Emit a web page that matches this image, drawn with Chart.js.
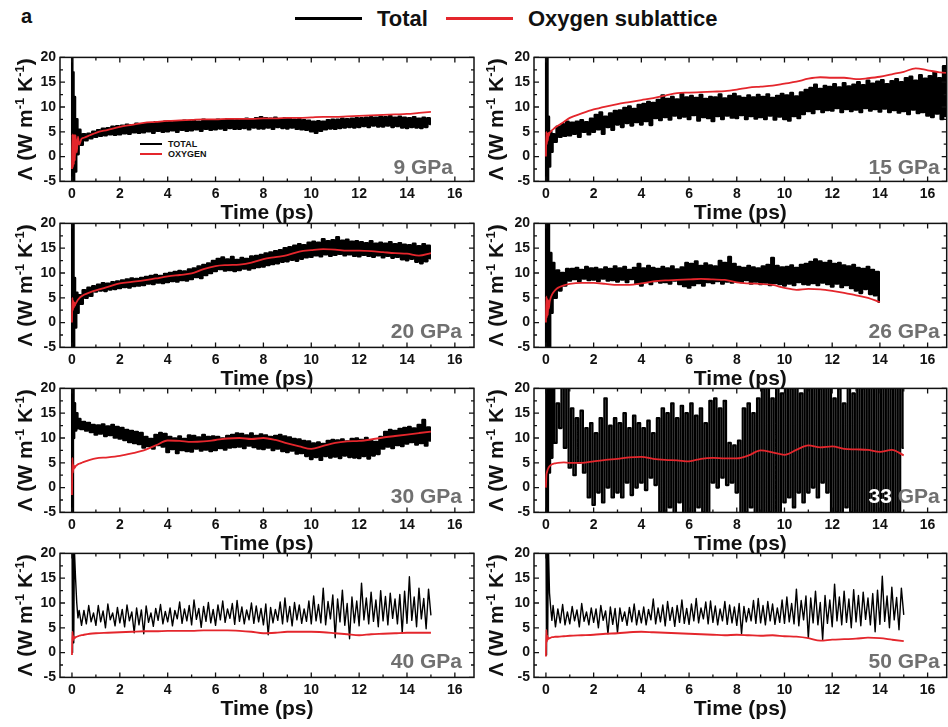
<!DOCTYPE html>
<html lang="en">
<head>
<meta charset="UTF-8">
<title>Thermal conductivity vs time</title>
<script src="https://cdn.jsdelivr.net/npm/chart.js"></script>
<style>
    body { margin: 0; background: #fff; font-family: "Liberation Sans", Arial, sans-serif; }
    #page { position: relative; width: 948px; height: 727px; overflow: hidden; }
    canvas { position: absolute; }
    .txt { position: absolute; font-weight: bold; color: #111; white-space: nowrap; }
    .key { position: absolute; }
</style>
</head>
<body>
<div id="page">
    <div class="txt" style="left:21px;top:6px;font-size:20px;line-height:20px">a</div>
    <div class="key" style="left:295px;top:17px;width:67px;height:3px;background:#000"></div>
    <div class="txt" style="left:377px;top:8px;font-size:22px;line-height:22px">Total</div>
    <div class="key" style="left:446px;top:17px;width:67px;height:3px;background:#e4262c"></div>
    <div class="txt" style="left:528px;top:8px;font-size:22px;line-height:22px">Oxygen sublattice</div>

    <div class="key" style="left:140px;top:143px;width:22px;height:2px;background:#000"></div>
    <div class="txt" style="left:168px;top:140px;font-size:9px;line-height:9px">TOTAL</div>
    <div class="key" style="left:140px;top:153px;width:22px;height:2px;background:#e4262c"></div>
    <div class="txt" style="left:168px;top:150px;font-size:9px;line-height:9px">OXYGEN</div>
</div>

<script>
    // axis ticks
    const X_TICKS = [0, 2, 4, 6, 8, 10, 12, 14, 16];
    const X_MINOR = [1, 3, 5, 7, 9, 11, 13, 15];
    const Y_TICKS = [-5, 0, 5, 10, 15, 20];
    const Y_MINOR = [-2.5, 2.5, 7.5, 12.5, 17.5];

    // time grid of the total (black) traces, ps
    const T_BLACK = [0, 0.025, 0.05, 0.075, 0.1, 0.15, 0.2, 0.25, 0.3, 0.4, 0.5, 0.6, 0.7, 0.8, 0.9];
    for (let i = 10; i <= 170; i++) T_BLACK.push(i / 10);

    // time grid of the oxygen sublattice (red) traces, ps
    const T_RED = [0, 0.02, 0.04, 0.06, 0.08, 0.1, 0.12, 0.15, 0.2, 0.25, 0.3, 0.4, 0.5, 0.75, 1,
        1.5, 2, 2.5, 3, 3.5, 4, 4.5, 5, 5.5, 6, 6.5, 7, 7.5, 8, 8.5, 9, 9.5, 10,
        10.5, 11, 11.5, 12, 12.5, 13, 13.5, 14, 14.5, 15, 15.5, 16, 16.5, 17];

    // ---- 9 GPa ----
    const B9 = [25, -8, 17, -6, 12, -3, 7.5, 0.5, 5.4, 2.4, 4.5, 3.3, 4.6, 3.7, 5.0,
        4.0, 5.3, 4.2, 5.6, 4.3, 5.7, 4.5, 6.0, 4.4, 6.1,
        4.5, 6.2, 4.7, 6.4, 4.6, 6.3, 4.9, 6.6, 4.8, 6.5,
        4.9, 6.7, 5.1, 6.6, 4.8, 6.9, 5.2, 6.8, 5.0, 7.0,
        5.1, 6.9, 5.3, 7.1, 5.0, 7.0, 5.4, 7.2, 5.2, 7.1,
        5.3, 7.2, 5.5, 7.0, 5.2, 7.4, 5.6, 7.3, 5.4, 7.2,
        5.5, 7.4, 5.7, 7.3, 5.4, 7.5, 5.8, 7.4, 5.6, 7.3,
        5.6, 7.5, 5.8, 7.6, 5.5, 7.4, 5.9, 7.7, 5.7, 7.9,
        5.7, 7.7, 5.9, 7.6, 5.6, 7.8, 6.0, 7.5, 5.8, 7.7,
        5.7, 7.6, 5.9, 7.4, 5.6, 7.5, 5.5, 7.3, 5.4, 7.2,
        5.1, 7.0, 4.8, 7.1, 5.2, 7.0, 5.5, 7.3, 5.7, 7.4,
        5.6, 7.4, 5.8, 7.6, 5.9, 7.5, 6.0, 7.6, 5.9, 7.7,
        6.0, 7.7, 6.2, 7.8, 6.0, 7.9, 6.3, 7.8, 6.1, 8.0,
        6.1, 7.9, 6.3, 8.1, 6.0, 7.8, 6.2, 8.0, 5.9, 7.8,
        5.8, 7.7, 6.0, 7.9, 5.9, 7.6, 5.8, 7.8, 6.0, 7.7,
        6.6];
    const R9 = [-2.5, 4.5, -2.2, 4.4, -1.6, 4.4, -0.8, 4.3, 0.8, 4.0, 2.4, 3.6, 3.8, 4.3, 4.8,
        5.4, 6.0, 6.4, 6.8, 7.0, 7.2, 7.3, 7.4, 7.5, 7.5, 7.6, 7.6, 7.6, 7.7,
        7.7, 7.8, 7.8, 7.9, 8.0, 8.0, 8.1, 8.2, 8.3, 8.4, 8.5, 8.6, 8.8, 9.0];

    // ---- 15 GPa ----
    const B15 = [25, -8, 22, -6, 8, -2, 5, 1, 4.5, 3, 6, 4, 6.5, 4.2, 7,
        4.3, 6.8, 4.6, 7.0, 4.0, 7.3, 5.0, 6.9, 4.5, 7.6,
        5.0, 8.4, 5.5, 8.9, 4.6, 8.0, 6.0, 8.7, 5.4, 9.2,
        6.5, 9.3, 6.0, 9.8, 6.8, 10.1, 6.3, 9.6, 7.0, 10.4,
        6.5, 10.6, 7.2, 11.0, 6.4, 10.8, 7.8, 11.4, 7.4, 12.3,
        8.0, 11.6, 7.5, 12.0, 8.3, 11.5, 7.8, 12.6, 8.1, 11.9,
        7.6, 12.2, 8.4, 11.8, 7.3, 12.4, 8.0, 11.6, 7.8, 12.0,
        7.2, 11.9, 8.2, 12.5, 7.6, 11.7, 8.3, 12.2, 7.9, 12.6,
        7.8, 12.1, 8.4, 11.8, 7.6, 12.3, 8.2, 11.9, 7.7, 12.4,
        8.0, 12.0, 7.6, 12.5, 8.3, 11.8, 7.5, 12.2, 8.1, 12.6,
        7.6, 12.3, 7.3, 12.8, 8.2, 12.1, 7.8, 12.9, 8.6, 13.4,
        9.2, 13.8, 8.8, 14.5, 9.6, 13.6, 9.0, 14.2, 9.4, 14.0,
        9.3, 14.6, 9.8, 13.9, 9.0, 14.8, 9.6, 14.1, 9.2, 14.5,
        9.5, 15.0, 9.0, 14.4, 9.8, 15.3, 9.3, 14.7, 9.6, 15.1,
        9.1, 15.4, 9.7, 14.6, 9.0, 15.2, 9.4, 15.6, 8.9, 15.0,
        9.2, 15.8, 8.6, 16.1, 9.5, 15.3, 8.8, 16.4, 9.0, 15.7,
        8.3, 16.2, 8.0, 17.0, 8.7, 15.8, 7.6, 18.2, 8.2, 16.5,
        7.8];
    const R15 = [0, 5, 2.5, 4.6, 3.2, 4.8, 4.2, 4.8, 5.0, 5.3, 5.5, 5.9, 6.2, 7.0, 7.8,
        8.7, 9.5, 10.1, 10.6, 11.0, 11.4, 11.8, 12.3, 12.8, 12.9, 13.0, 13.1, 13.2, 13.5,
        13.9, 14.1, 14.3, 14.7, 15.1, 15.7, 16.0, 15.9, 15.9, 15.6, 15.8, 16.1, 16.6, 17.1,
        17.8, 17.4, 17.0, 16.8];

    // ---- 20 GPa ----
    const B20 = [25, -8, 20, -6, 9, -1, 6, 2, 5.5, 3.8, 6.5, 5, 7, 5.4, 7.3,
        6.3, 7.6, 6.5, 7.9, 6.4, 7.8, 6.7, 8.1, 6.8, 8.3,
        7.0, 8.5, 7.2, 8.7, 7.1, 8.9, 7.4, 8.8, 7.5, 9.0,
        7.6, 9.2, 7.9, 9.4, 7.8, 9.6, 8.1, 9.4, 8.0, 9.8,
        8.2, 10.0, 8.4, 10.2, 8.3, 10.4, 8.6, 10.3, 8.5, 10.7,
        8.8, 10.9, 9.2, 11.3, 9.0, 11.6, 9.6, 11.9, 10.0, 12.4,
        10.4, 12.8, 10.8, 13.1, 10.5, 12.7, 10.6, 13.2, 10.4, 12.6,
        10.6, 13.0, 10.9, 12.8, 10.7, 13.3, 11.0, 13.4, 11.2, 13.6,
        11.3, 13.9, 11.6, 14.1, 11.8, 14.4, 12.0, 14.6, 12.3, 15.0,
        12.4, 15.2, 12.7, 15.5, 12.5, 15.8, 12.9, 15.6, 13.2, 16.1,
        13.3, 16.3, 13.6, 16.1, 13.4, 16.8, 13.8, 16.4, 13.5, 16.6,
        13.7, 17.2, 13.9, 16.5, 13.6, 16.7, 13.8, 16.3, 13.5, 16.4,
        13.4, 16.2, 13.7, 16.0, 13.5, 16.4, 13.3, 15.9, 13.6, 16.1,
        13.2, 15.9, 13.5, 16.2, 13.1, 15.8, 13.3, 16.0, 12.8, 15.7,
        12.6, 15.6, 12.9, 15.9, 12.3, 15.4, 12.0, 15.8, 12.4, 15.5,
        13.0];
    const R20 = [0, 5, 2.5, 4.3, 3.0, 4.0, 3.4, 3.8, 4.2, 4.6, 4.9, 5.3, 5.6, 6.1, 6.5,
        7.2, 7.9, 8.2, 8.5, 8.9, 9.3, 9.6, 9.9, 10.8, 11.4, 11.6, 11.7, 12.1, 12.8,
        13.2, 13.6, 14.3, 14.6, 14.8, 14.7, 14.5, 14.5, 14.4, 14.2, 14.0, 13.9, 13.5, 14.0];

    // ---- 26 GPa ----
    const B26 = [25, -8, 22, -8, 20, -6, 14, 2, 12, 5, 10.5, 6.5, 10, 7.5, 10.8,
        8.5, 10.8, 8.8, 11.0, 8.4, 10.6, 8.9, 11.2, 8.6, 10.9,
        8.7, 11.0, 8.4, 10.7, 8.9, 11.1, 8.5, 10.8, 8.6, 11.3,
        8.3, 10.9, 8.7, 11.2, 8.2, 10.6, 8.8, 11.0, 7.9, 11.8,
        7.5, 10.9, 8.3, 11.4, 7.8, 11.0, 8.4, 10.8, 8.1, 11.2,
        8.2, 10.9, 7.9, 11.3, 8.5, 10.7, 7.8, 11.1, 7.4, 12.0,
        7.1, 11.8, 7.6, 12.3, 8.0, 11.4, 7.5, 11.9, 8.2, 11.5,
        8.0, 11.3, 8.4, 12.4, 7.9, 12.0, 8.3, 13.2, 8.1, 11.8,
        8.4, 11.2, 8.2, 11.0, 8.6, 11.4, 7.9, 11.1, 8.3, 10.9,
        7.8, 11.3, 8.1, 11.6, 7.6, 13.0, 8.0, 11.4, 7.8, 11.1,
        7.5, 11.2, 7.9, 11.5, 7.6, 11.0, 8.2, 11.6, 7.8, 11.8,
        7.7, 12.2, 8.0, 12.7, 7.6, 12.3, 8.1, 12.0, 7.8, 12.4,
        7.3, 11.8, 7.9, 12.0, 7.2, 11.5, 7.6, 11.3, 7.0, 11.6,
        6.5, 11.0, 6.0, 10.8, 6.8, 11.2, 5.8, 10.6, 5.5, 10.2,
        4.2];
    const R26 = [0, 5.3, 1.0, 4.8, 1.5, 4.5, 2.8, 4.0, 5.0, 5.6, 6.0, 6.6, 7.0, 7.5, 7.8,
        8.0, 8.0, 7.8, 7.6, 7.6, 7.9, 8.3, 8.5, 8.6, 8.7, 8.8, 8.7, 8.6, 8.1,
        7.9, 7.8, 7.6, 7.0, 6.6, 6.8, 6.7, 6.4, 6.0, 5.5, 5.0, 4.1];

    // ---- 30 GPa ----
    const B30 = [25, -6, 21, 10, 17, 11.5, 15, 12, 13.8, 11.8, 13.2, 11.5, 13.0, 11.2, 12.6,
        10.7, 12.5, 10.9, 12.7, 10.4, 12.3, 10.6, 12.6, 10.1, 12.2,
        9.9, 12.0, 9.6, 11.6, 9.2, 11.4, 9.0, 11.2, 8.8, 11.0,
        8.1, 10.2, 8.4, 9.8, 7.9, 10.6, 8.6, 11.0, 8.3, 10.8,
        7.2, 10.2, 7.8, 9.9, 7.0, 10.3, 7.6, 9.8, 7.4, 10.5,
        7.3, 10.4, 7.9, 10.1, 7.5, 10.6, 7.7, 10.2, 7.4, 10.3,
        7.6, 10.2, 8.0, 9.9, 7.7, 10.4, 8.1, 10.6, 8.2, 10.9,
        8.3, 10.8, 8.0, 10.5, 8.5, 10.9, 8.2, 10.4, 7.9, 10.7,
        7.8, 10.5, 8.1, 10.2, 7.6, 10.4, 7.9, 10.6, 7.4, 10.3,
        7.2, 10.1, 7.5, 9.8, 6.9, 9.7, 7.0, 9.4, 6.4, 9.3,
        5.8, 8.9, 6.2, 9.1, 5.6, 8.8, 6.4, 9.4, 6.1, 9.6,
        6.3, 9.5, 6.0, 9.7, 6.5, 9.3, 6.2, 9.8, 6.1, 9.9,
        6.0, 9.6, 6.4, 10.0, 5.9, 9.4, 6.5, 9.2, 6.8, 10.2,
        7.9, 11.2, 8.3, 11.6, 8.0, 11.4, 8.6, 11.8, 8.4, 12.0,
        8.9, 12.2, 9.2, 11.9, 8.7, 12.6, 9.0, 13.6, 8.5, 12.1,
        9.5];
    const R30 = [-1.5, 6, 3.0, 4.6, 3.8, 4.3, 4.0, 4.3, 4.5, 4.7, 4.8, 5.0, 5.2, 5.6, 5.9,
        6.1, 6.4, 6.9, 7.5, 8.5, 9.5, 9.4, 9.2, 9.3, 9.6, 9.9, 10.0, 9.8, 10.0,
        9.6, 8.9, 8.3, 7.8, 8.4, 9.0, 9.3, 9.4, 9.7, 10.1, 10.4, 10.7, 11.0, 11.3];

    // ---- 33 GPa ----
    const B33 = [25, -8, 24, -6, 22, 3, 24, 6, 23, 9, 17, 12, 22, 8, 24,
        4, 16, 2.5, 14, 5, 15.5, 3, 12, -2, 13,
        -3.5, 11, -1, 14, -3, 18, 0, 12.5, -2, 14,
        -1, 13, -2, 15, 1, 12, -1.5, 14.5, 0, 13,
        1, 12, -0.5, 13.5, 2, 11, 0.5, 14, -5, 16,
        -6, 15, -4, 17, -5.5, 14, -3, 16.5, -6, 15,
        -5, 17, -6, 14.5, -4, 16, -5, 13, -6, 17.5,
        1, 18, 0, 16, 2, 17.5, 0.5, 9, 1, 8.5,
        -1, 9.5, -6, 16, -5, 17, -4, 15, -6, 18,
        -7, 20, -6, 22, -5, 18, -8, 21, -6, 19,
        -3, 21, -2, 20, -4, 22, -1, 19, -3, 23,
        -1, 21, 0, 24, -2, 20, 1, 22, -1, 21,
        -6, 18, -5, 20, -7, 17, -4, 21, -5, 19,
        -6, 22, -7, 20, -5, 24, -6, 21, -8, 23,
        -6, 21, -5, 24, -7, 20, -6, 22, -5, 23,
        8];
    const R33 = [0, 2.5, 3.0, 3.4, 3.7, 3.9, 4.1, 4.3, 4.5, 4.7, 4.8, 4.9, 5.0, 5.1, 5.0,
        5.0, 5.3, 5.6, 5.8, 6.1, 6.2, 5.8, 5.6, 5.5, 5.3, 5.8, 6.0, 5.9, 5.9,
        6.5, 7.5, 7.1, 6.6, 7.6, 8.5, 8.1, 8.3, 7.8, 7.7, 7.6, 7.2, 7.6, 6.5];

    // ---- 40 GPa ----
    const B40 = [25, 0, 24, 2, 21, 15, 10, 7, 8.5, 5.5, 8.5, 5.8, 9.5, 6.2, 8.0,
        5.5, 9.5, 6.2, 8.4, 5.0, 9.8, 6.6, 8.0, 5.4, 9.1,
        6.0, 8.7, 5.2, 9.6, 6.4, 8.2, 4.0, 9.0, 5.6, 8.6,
        3.8, 9.4, 6.1, 8.0, 5.3, 8.9, 6.5, 9.7, 5.8, 8.3,
        6.2, 9.0, 5.4, 8.5, 6.8, 10.2, 5.9, 8.8, 6.4, 9.5,
        5.6, 10.6, 6.7, 8.9, 5.1, 9.3, 6.3, 10.1, 6.0, 8.7,
        5.5, 9.6, 6.6, 10.4, 6.1, 8.8, 6.9, 9.9, 5.7, 10.5,
        6.3, 9.2, 5.8, 8.6, 6.6, 10.0, 5.9, 9.4, 6.2, 8.9,
        5.6, 9.8, 3.6, 9.1, 6.0, 8.7, 6.5, 10.2, 5.8, 11.0,
        6.2, 9.3, 5.4, 10.1, 6.6, 9.6, 5.9, 8.8, 6.3, 10.4,
        5.8, 11.4, 6.4, 9.7, 6.0, 13.0, 5.6, 10.3, 6.8, 11.6,
        3.0, 10.8, 6.2, 12.6, 5.5, 9.9, 2.8, 11.2, 6.0, 10.4,
        5.4, 14.0, 6.6, 11.0, 5.8, 12.2, 6.3, 10.6, 5.2, 12.5,
        6.4, 11.3, 5.6, 12.0, 6.9, 10.8, 5.8, 11.7, 4.0, 12.4,
        5.9, 15.3, 6.5, 11.2, 5.2, 13.0, 6.8, 10.9, 4.8, 12.8,
        7.5];
    const R40 = [-0.5, 4.2, 2.4, 3.3, 2.8, 3.1, 2.9, 3.1, 3.2, 3.3, 3.4, 3.5, 3.6, 3.8, 3.9,
        4.0, 4.1, 4.2, 4.3, 4.3, 4.4, 4.4, 4.4, 4.5, 4.5, 4.5, 4.4, 4.2, 3.9,
        4.0, 4.2, 4.2, 4.2, 4.1, 3.9, 3.7, 3.5, 3.7, 3.8, 3.9, 4.0, 4.0, 4.0];

    // ---- 50 GPa ----
    const B50 = [25, -0.5, 24, 3, 22, 12, 9, 6.5, 9.5, 5.2, 8.8, 6.0, 9.7, 5.6, 8.2,
        5.8, 9.3, 6.4, 8.6, 5.2, 9.9, 6.3, 8.2, 5.6, 9.0,
        6.1, 8.8, 5.0, 9.5, 6.5, 8.4, 3.8, 9.2, 5.7, 8.9,
        4.0, 9.0, 6.3, 8.2, 5.5, 9.1, 6.2, 9.8, 5.6, 8.5,
        6.0, 9.2, 5.6, 8.7, 6.6, 10.8, 5.8, 9.0, 6.2, 9.6,
        5.4, 10.3, 6.5, 9.1, 5.3, 9.5, 6.1, 10.6, 5.9, 8.9,
        5.7, 9.8, 6.4, 10.9, 6.0, 9.0, 6.8, 10.2, 5.8, 10.4,
        6.1, 9.4, 5.6, 8.8, 6.4, 10.3, 5.7, 9.6, 6.0, 9.2,
        5.5, 9.9, 3.8, 9.3, 6.2, 8.9, 6.4, 10.5, 5.9, 10.9,
        6.0, 9.5, 5.6, 10.3, 6.4, 9.8, 5.7, 9.0, 6.1, 10.6,
        5.9, 11.2, 6.2, 9.9, 5.8, 12.8, 5.4, 10.5, 6.6, 11.4,
        2.9, 11.0, 6.0, 12.4, 5.6, 10.1, 2.6, 11.5, 5.9, 10.6,
        5.2, 13.8, 6.4, 11.2, 5.6, 12.4, 6.1, 10.8, 5.0, 12.7,
        6.2, 11.5, 5.4, 12.2, 6.7, 11.0, 5.6, 11.9, 4.2, 12.6,
        5.7, 15.4, 6.3, 11.4, 5.0, 13.2, 6.6, 11.1, 4.6, 13.0,
        7.6];
    const R50 = [-0.8, 4.6, 2.2, 3.4, 2.6, 3.0, 2.8, 2.9, 3.0, 3.1, 3.1, 3.2, 3.2, 3.3, 3.4,
        3.5, 3.6, 3.8, 3.9, 4.1, 4.2, 4.1, 4.0, 3.9, 3.8, 3.7, 3.6, 3.5, 3.6,
        3.5, 3.4, 3.5, 3.3, 3.2, 2.9, 2.4, 2.6, 2.7, 2.8, 3.0, 2.9, 2.6, 2.3];

    // dense traces are drawn as stepped strokes so they read as a solid band
    const PANELS = [
        { label: '9 GPa',  black: B9,  red: R9,  col: 0, row: 0, inset: 21, lw: 2.6, dense: true },
        { label: '15 GPa', black: B15, red: R15, col: 1, row: 0, lw: 2.6, dense: true },
        { label: '20 GPa', black: B20, red: R20, col: 0, row: 1, lw: 2.6, dense: true },
        { label: '26 GPa', black: B26, red: R26, col: 1, row: 1, lw: 2.6, dense: true },
        { label: '30 GPa', black: B30, red: R30, col: 0, row: 2, lw: 2.6, dense: true },
        { label: '33 GPa', black: B33, red: R33, col: 1, row: 2, lw: 2.2, dense: true, whiteNum: true },
        { label: '40 GPa', black: B40, red: R40, col: 0, row: 3, lw: 1.4 },
        { label: '50 GPa', black: B50, red: R50, col: 1, row: 3, lw: 1.4 }
    ];

    const FONT = '"Liberation Sans", Arial, sans-serif';
    const RED = '#e4262c';
    const COLS = [
        { left: 0, width: 480, padRight: 6, titleGap: 28, inset: 12 },
        { left: 474, width: 474, padRight: 1.3, titleGap: 31, inset: 7 }
    ];
    const ROW_TOPS = [45, 211, 376, 541];
    const CANVAS_H = 182, PAD_TOP = 12, PLOT_H = 124.4;

    const pts = (t, v) => v.map((y, i) => ({ x: t[i], y: y }));

    // frame, inward ticks, axis titles and pressure label
    const framePlugin = {
        id: 'frame',
        afterDraw(chart, args, opts) {
            const { ctx, chartArea: a, scales: { x, y } } = chart;
            ctx.save();
            ctx.strokeStyle = '#111';
            ctx.lineWidth = 1.3;
            ctx.beginPath();
            const xt = (v, len) => {
                const px = x.getPixelForValue(v);
                ctx.moveTo(px, a.bottom); ctx.lineTo(px, a.bottom - len);
                ctx.moveTo(px, a.top); ctx.lineTo(px, a.top + len);
            };
            const yt = (v, len) => {
                const py = y.getPixelForValue(v);
                ctx.moveTo(a.left, py); ctx.lineTo(a.left + len, py);
                ctx.moveTo(a.right, py); ctx.lineTo(a.right - len, py);
            };
            X_TICKS.forEach(v => xt(v, 5));
            X_MINOR.forEach(v => xt(v, 3));
            Y_TICKS.forEach(v => yt(v, 5));
            Y_MINOR.forEach(v => yt(v, 3));
            ctx.stroke();
            ctx.lineWidth = 1.5;
            ctx.strokeRect(a.left, a.top, a.right - a.left, a.bottom - a.top);

            // x title
            ctx.fillStyle = '#111';
            ctx.font = 'bold 21px ' + FONT;
            ctx.textAlign = 'center';
            ctx.textBaseline = 'alphabetic';
            ctx.fillText('Time (ps)', (a.left + a.right) / 2, a.bottom + 37.5);

            // y title with superscripts
            const parts = [['\u039B (W m', 21, 0], ['-1', 13, -8], [' K', 21, 0], ['-1', 13, -8], [')', 21, 0]];
            let total = 0;
            parts.forEach(p => { ctx.font = 'bold ' + p[1] + 'px ' + FONT; p.push(ctx.measureText(p[0]).width); total += p[3]; });
            ctx.translate(a.left - opts.titleGap, (a.top + a.bottom) / 2);
            ctx.rotate(-Math.PI / 2);
            ctx.textAlign = 'left';
            let cx = -total / 2;
            parts.forEach(p => {
                ctx.font = 'bold ' + p[1] + 'px ' + FONT;
                ctx.fillText(p[0], cx, p[2]);
                cx += p[3];
            });
            ctx.setTransform(1, 0, 0, 1, 0, 0);

            // pressure label
            const [num, unit] = opts.label.split(' ');
            ctx.font = 'bold 21px ' + FONT;
            ctx.textAlign = 'right';
            const bx = a.right - opts.inset;
            const by = a.bottom - (opts.row === 0 ? 7 : 9);
            ctx.fillStyle = '#707070';
            ctx.fillText(unit, bx, by);
            const uw = ctx.measureText(' ' + unit).width;
            ctx.fillStyle = opts.whiteNum ? '#ffffff' : '#707070';
            ctx.fillText(num, bx - uw, by);
            ctx.restore();
        }
    };

    const page = document.getElementById('page');

    PANELS.forEach(p => {
        const col = COLS[p.col];
        const cv = document.createElement('canvas');
        cv.width = col.width;
        cv.height = CANVAS_H;
        cv.style.left = col.left + 'px';
        cv.style.top = ROW_TOPS[p.row] + 'px';
        page.appendChild(cv);

        const tickFont = { family: FONT, size: 14, weight: 'bold' };

        new Chart(cv, {
            type: 'line',
            data: {
                datasets: [
                    {
                        data: pts(T_RED, p.red),
                        borderColor: RED,
                        borderWidth: 1.8,
                        borderJoinStyle: 'round',
                        pointRadius: 0,
                        cubicInterpolationMode: 'monotone',
                        order: 1,
                        clip: 0
                    },
                    {
                        data: pts(T_BLACK, p.black),
                        borderColor: '#000',
                        borderWidth: p.lw,
                        borderJoinStyle: 'round',
                        stepped: p.dense ? 'middle' : false,
                        pointRadius: 0,
                        order: 2,
                        clip: 0
                    }
                ]
            },
            options: {
                responsive: false,
                animation: false,
                events: [],
                layout: { padding: { top: PAD_TOP, left: 0, right: col.padRight, bottom: 0 } },
                scales: {
                    x: {
                        type: 'linear',
                        min: -0.5,
                        max: 16.8,
                        grid: { display: false, drawTicks: false },
                        border: { display: false },
                        ticks: { font: tickFont, color: '#111', padding: 4, maxRotation: 0, autoSkip: false },
                        afterBuildTicks: s => { s.ticks = X_TICKS.map(v => ({ value: v })); },
                        afterFit: s => { s.height = CANVAS_H - PAD_TOP - PLOT_H; }
                    },
                    y: {
                        type: 'linear',
                        min: -5,
                        max: 20,
                        grid: { display: false, drawTicks: false },
                        border: { display: false },
                        ticks: { font: tickFont, color: '#111', padding: 4, autoSkip: false },
                        afterBuildTicks: s => { s.ticks = Y_TICKS.map(v => ({ value: v })); },
                        afterFit: s => { s.width = 60; }
                    }
                },
                plugins: {
                    legend: { display: false },
                    tooltip: { enabled: false },
                    frame: {
                        label: p.label,
                        row: p.row,
                        whiteNum: !!p.whiteNum,
                        titleGap: col.titleGap,
                        inset: p.inset || col.inset
                    }
                }
            },
            plugins: [framePlugin]
        });
    });
</script>
</body>
</html>
